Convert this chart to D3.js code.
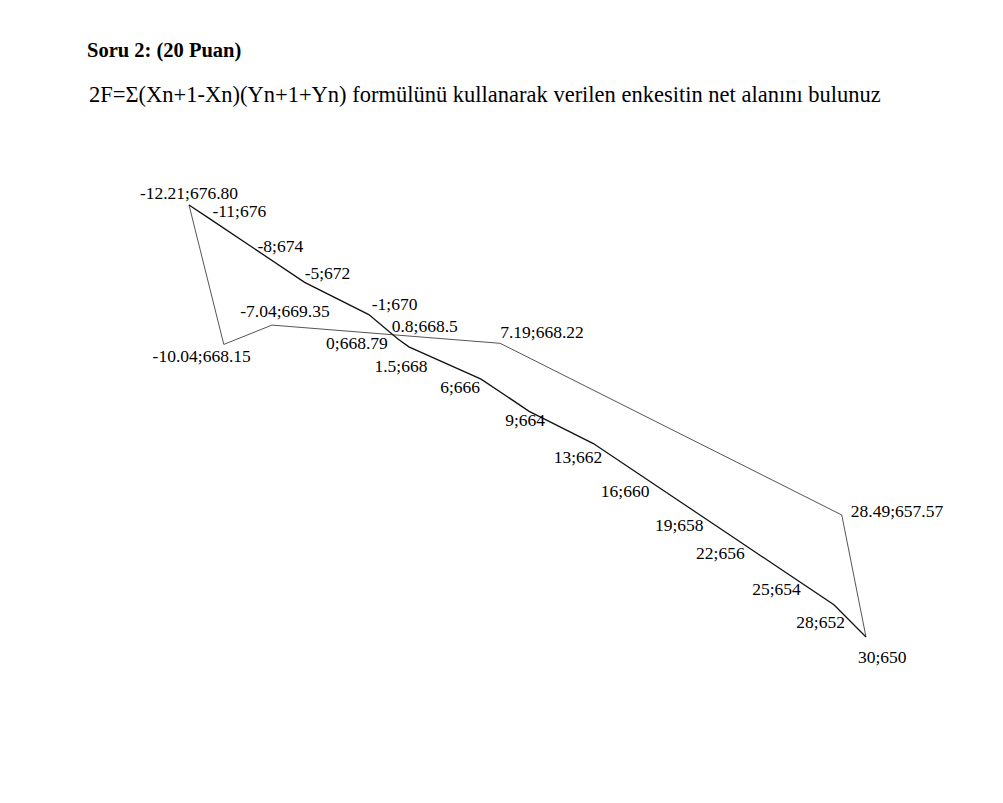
<!DOCTYPE html>
<html><head><meta charset="utf-8">
<script src="https://cdn.jsdelivr.net/npm/d3@7"></script>
<style>body{margin:0;background:#fff}</style></head>
<body><svg id="c" width="1003" height="803"></svg>
<script>
const labels = ["-12.21;676.80","-11;676","-8;674","-5;672","-1;670","0.8;668.5","1.5;668","6;666","9;664","13;662","16;660","19;658","22;656","25;654","28;652","30;650","28.49;657.57","7.19;668.22","0;668.79","-7.04;669.35","-10.04;668.15"];
const xs = [-12.21,-11,-8,-5,-1,0.8,1.5,6,9,13,16,19,22,25,28,30,28.49,7.19,0,-7.04,-10.04];
const ys = [676.80,676,674,672,670,668.5,668,666,664,662,660,658,656,654,652,650,657.57,668.22,668.79,669.35,668.15];
// label placement: [anchor, dx, dy]
const place = [["middle",0,-6],["start",4,-1],["start",1,2],["start",0,-3],["start",3,-5],["start",-6,-7],["middle",-8,25],["end",-1,14],["middle",-4,15],["end",9,19],["end",8,21],["end",14,23],["end",7,19],["end",15,22],["end",11,23],["start",-8,26],["start",9,2],["start",0,-5],["end",3,15],["middle",13,-8],["end",27,18]];

const svg = d3.select("#c");
const x = d3.scaleLinear().domain([-12.21,30]).range([189,866]);
const y = d3.scaleLinear().domain([676.8,650]).range([205,637]);
const pts = xs.map((v,i)=>[x(v),y(ys[i])]);
const ground = pts.slice(0,16);
const rest = pts.slice(15).concat([pts[0]]);
const line = d3.line();
svg.append("path").attr("d",line(rest)).attr("fill","none").attr("stroke","#555").attr("stroke-width",1);
svg.append("path").attr("d",line(ground)).attr("fill","none").attr("stroke","#111").attr("stroke-width",1.3);
svg.selectAll("text.l").data(labels).join("text").attr("class","l")
  .attr("x",(d,i)=>pts[i][0]+place[i][1]).attr("y",(d,i)=>pts[i][1]+place[i][2])
  .attr("text-anchor",(d,i)=>place[i][0])
  .attr("font-family","Liberation Serif, Times New Roman, serif").attr("font-size",17.5).text(d=>d);
svg.append("text").attr("x",87).attr("y",57).attr("font-family","Liberation Serif, serif").attr("font-weight","bold").attr("font-size",20.5).text("Soru 2: (20 Puan)");
svg.append("text").attr("x",89).attr("y",102).attr("font-family","Liberation Serif, serif").attr("font-size",22.5).text("2F=Σ(Xn+1-Xn)(Yn+1+Yn) formülünü kullanarak verilen enkesitin net alanını bulunuz");
</script></body></html>
